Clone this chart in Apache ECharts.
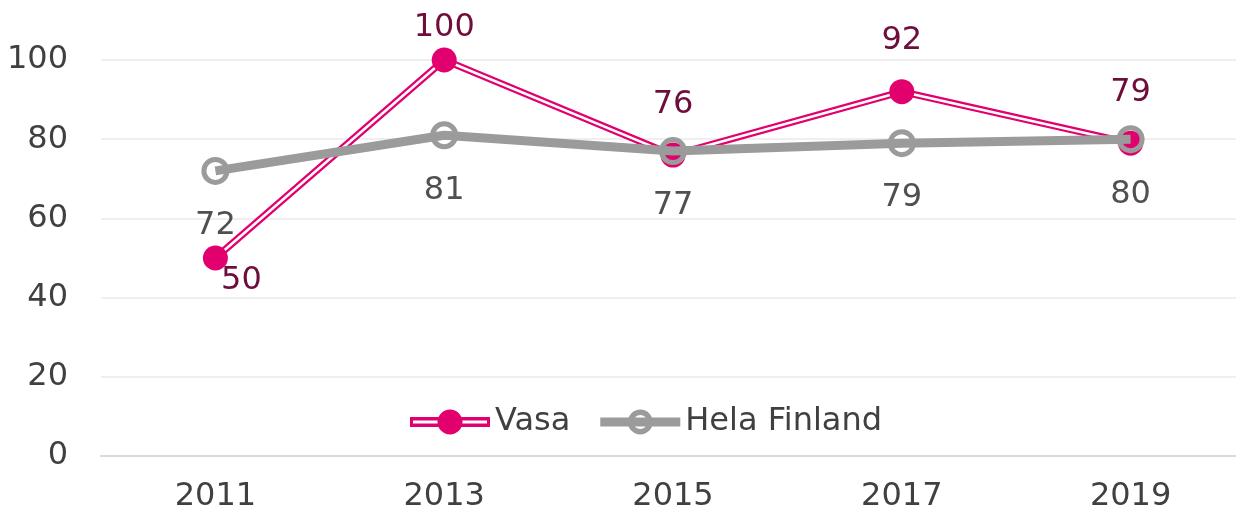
<!DOCTYPE html>
<html>
<head>
<meta charset="utf-8">
<script src="https://cdn.jsdelivr.net/npm/echarts@6/dist/echarts.min.js"></script>
<style>
  html, body { margin: 0; padding: 0; background: #fff; }
  #chart { width: 1236px; height: 514px; }
</style>
</head>
<body>
<div id="chart"></div>
<script>
// data
var years = ['2011', '2013', '2015', '2017', '2019'];
var vasa = [50, 100, 76, 92, 79];
var helaFinland = [72, 81, 77, 79, 80];
var yTicks = [0, 20, 40, 60, 80, 100];

var pink = '#E2006E';
var maroon = '#6E0E3C';
var grey = '#9B9B9B';
var font = "'DejaVu Sans', sans-serif";

// legend icons (double line + dot, thick line + ring)
var vasaIcon = 'path://M1,8 H81 V18 H1 Z M4,11.5 V14.5 H78 V11.5 Z M28.5,13 A12.5,12.5 0 1,1 53.5,13 A12.5,12.5 0 1,1 28.5,13 Z';
var helaIcon = 'path://M1,8.5 H81 V17.5 H1 Z M28.5,13 A12.5,12.5 0 1,1 53.5,13 A12.5,12.5 0 1,1 28.5,13 Z M34,13 A7,7 0 1,0 48,13 A7,7 0 1,0 34,13 Z';

// per point label tweaks for Vasa
var vasaData = vasa.map(function (v, i) {
  var item = { value: v };
  if (i === 0) {
    item.label = { position: 'bottom', distance: 0, offset: [26, -6] };
  } else if (v === 100) {
    item.label = { offset: [0, 18] };
  }
  return item;
});

var chart = echarts.init(document.getElementById('chart'));

var option = {
  animation: false,
  backgroundColor: '#fff',
  grid: { left: 101, width: 1144, top: 60, bottom: 58, containLabel: false, outerBoundsMode: 'none' },
  legend: {
    left: 405,
    top: 401,
    itemWidth: 80,
    itemHeight: 25,
    itemGap: 30,
    textStyle: { fontFamily: font, fontSize: 32, color: '#404040', padding: [0, 0, 0, 0] },
    data: [
      { name: 'Vasa', icon: vasaIcon, itemStyle: { color: pink, borderWidth: 0 } },
      { name: 'Hela Finland', icon: helaIcon, itemStyle: { color: grey, borderWidth: 0 } }
    ]
  },
  xAxis: {
    type: 'category',
    data: years,
    boundaryGap: true,
    axisLine: { show: true, lineStyle: { color: '#D9D9D9', width: 2 } },
    axisTick: { show: false },
    axisLabel: { fontFamily: font, fontSize: 32, color: '#404040', margin: 25 }
  },
  yAxis: {
    type: 'value',
    min: yTicks[0],
    max: yTicks[yTicks.length - 1],
    interval: 20,
    axisLine: { show: false },
    axisTick: { show: false },
    splitLine: { lineStyle: { color: '#EFEFEF', width: 2 } },
    axisLabel: { fontFamily: font, fontSize: 32, color: '#404040', margin: 33 }
  },
  series: [
    {
      name: 'Vasa',
      type: 'line',
      data: vasa,
      z: 2,
      showSymbol: false,
      itemStyle: { color: pink },
      lineStyle: { color: pink, width: 7 },
      silent: true
    },
    {
      name: '_vasaInner',
      type: 'line',
      data: vasa,
      z: 3,
      showSymbol: false,
      lineStyle: { color: '#fff', width: 2.5 },
      silent: true
    },
    {
      name: '_vasaDots',
      type: 'line',
      data: vasaData,
      z: 4,
      symbol: 'circle',
      symbolSize: 25,
      itemStyle: { color: pink },
      lineStyle: { width: 0, opacity: 0 },
      label: {
        show: true,
        position: 'top',
        distance: 22,
        fontFamily: font,
        fontSize: 32,
        color: maroon
      }
    },
    {
      name: 'Hela Finland',
      type: 'line',
      data: helaFinland,
      z: 5,
      symbol: 'circle',
      symbolSize: 23,
      itemStyle: { color: 'rgba(0,0,0,0)', borderColor: grey, borderWidth: 5 },
      lineStyle: { color: grey, width: 9 },
      label: {
        show: true,
        position: 'bottom',
        distance: 25,
        fontFamily: font,
        fontSize: 32,
        color: '#505050'
      }
    }
  ]
};

chart.setOption(option);
</script>
</body>
</html>
